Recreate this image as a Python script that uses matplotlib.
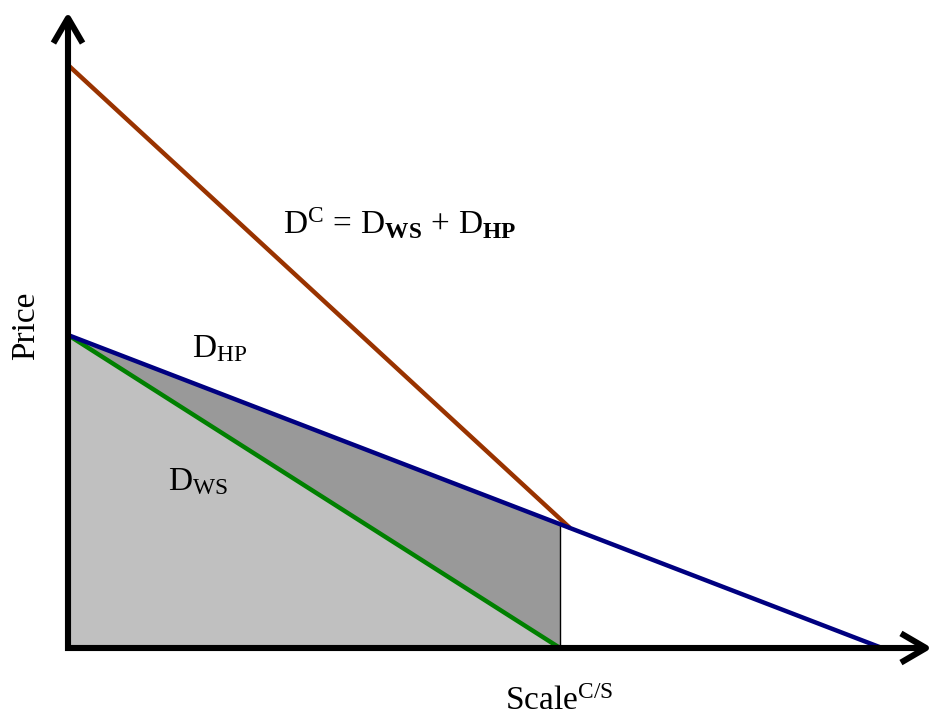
import matplotlib
matplotlib.use("Agg")
import matplotlib.pyplot as plt

plt.rcParams['font.family'] = ['Liberation Serif', 'DejaVu Serif']
plt.rcParams['mathtext.fontset'] = 'custom'
plt.rcParams['mathtext.rm'] = 'Liberation Serif'
plt.rcParams['mathtext.it'] = 'Liberation Serif:italic'
plt.rcParams['mathtext.bf'] = 'Liberation Serif:bold'

# demand curves (quantity, price) end points
dc_q = [0.0, 5.02]
dc_p = [5.83, 1.20]
dhp_q = [0.0, 8.14]
dhp_p = [3.13, 0.0]
dws_q = [0.0, 4.92]
dws_p = [3.13, 0.0]
q_cut = 4.92  # where the shaded area stops


def blue_at(q):
    return dhp_p[0] + (dhp_p[1] - dhp_p[0]) * (q - dhp_q[0]) / (dhp_q[1] - dhp_q[0])


fig = plt.figure(figsize=(9.36, 7.17), dpi=100)
ax = fig.add_axes([0, 0, 1, 1])
ax.set_xlim(-0.68, 8.68)
ax.set_ylim(-0.69, 6.48)
ax.axis('off')

# shaded areas
ax.fill([dws_q[0], dws_q[1], 0], [dws_p[0], dws_p[1], 0], color='#c0c0c0', lw=0, zorder=1)
ax.fill([0, q_cut, q_cut, dws_q[1]], [dhp_p[0], blue_at(q_cut), 0, dws_p[1]],
        color='#999999', lw=0, zorder=1)
ax.plot([q_cut, q_cut], [0, blue_at(q_cut)], color='black', lw=1, zorder=2)

# curves
ax.plot(dc_q, dc_p, color='#993300', lw=3.2, solid_capstyle='butt', zorder=3)
ax.plot(dws_q, dws_p, color='#008000', lw=3.2, solid_capstyle='butt', zorder=3)
ax.plot(dhp_q, dhp_p, color='#000080', lw=3.2, solid_capstyle='butt', zorder=4)

# axes with arrows
arr = dict(arrowstyle='->,head_length=1.8,head_width=1.05', lw=4.4, color='black',
           shrinkA=0, shrinkB=0, capstyle='butt', joinstyle='round')
ax.annotate('', xy=(0, 6.36), xytext=(0, -0.03), arrowprops=arr, zorder=5)
ax.annotate('', xy=(8.64, 0), xytext=(-0.03, 0), arrowprops=arr, zorder=5)

# labels
fs = 24
ax.text(2.15, 4.15,
        r'$\mathrm{D}^{\mathrm{C}}\,=\,\mathrm{D}_{\mathbf{WS}}\,+\,\mathrm{D}_{\mathbf{HP}}$',
        fontsize=fs, va='baseline', ha='left')
ax.text(1.24, 2.91, r'$\mathrm{D}_{\mathrm{HP}}$', fontsize=fs, va='baseline', ha='left')
ax.text(1.0, 1.58, r'$\mathrm{D}_{\mathrm{WS}}$', fontsize=fs, va='baseline', ha='left')
ax.text(4.37, -0.62, r'$\mathrm{Scale}^{\mathrm{C/S}}$', fontsize=fs, va='baseline', ha='left')
ax.text(-0.42, 3.22, 'Price', fontsize=fs, rotation=90, va='center', ha='center')

fig.savefig('out.png', dpi=100)
